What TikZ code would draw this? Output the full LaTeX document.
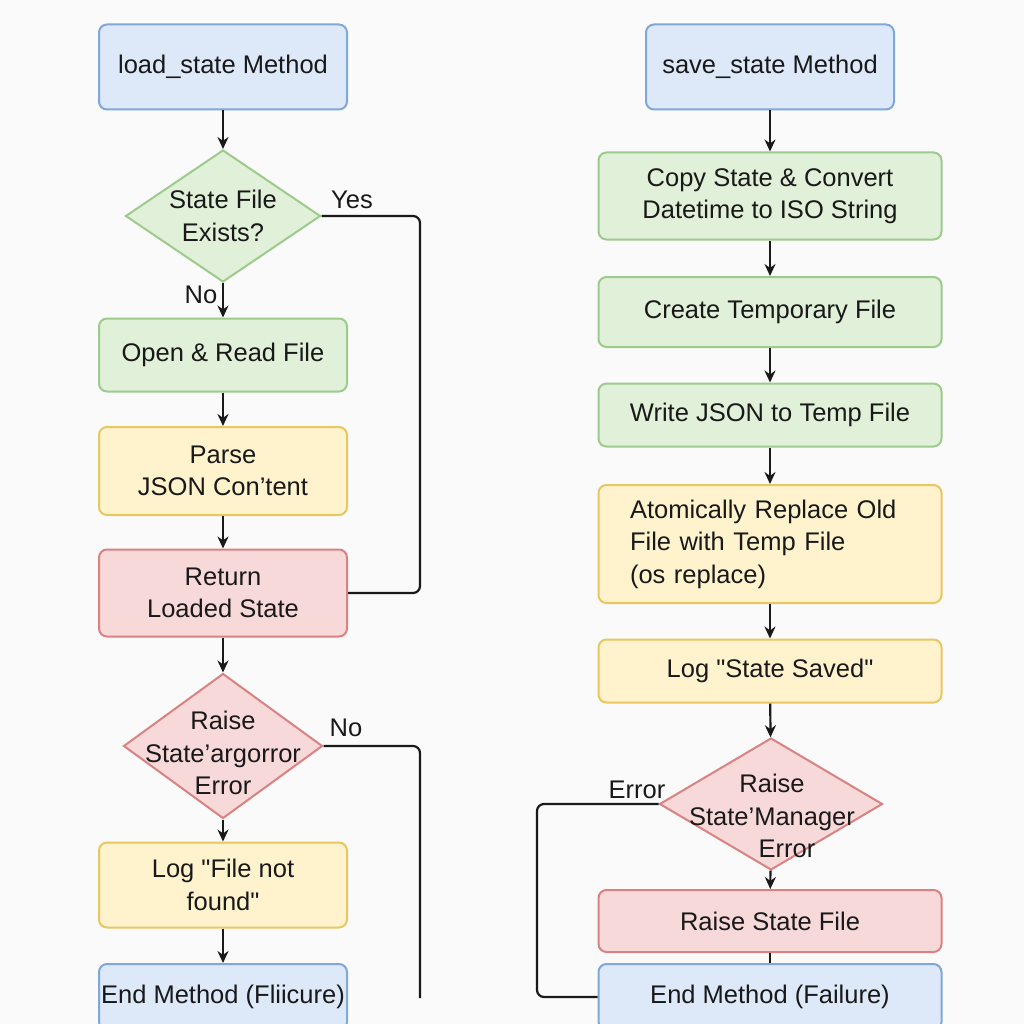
\documentclass[tikz,border=0pt]{standalone}
\usepackage{fontspec}
\setmainfont{Liberation Sans}
\usetikzlibrary{shapes.geometric,arrows.meta}

\definecolor{bluefill}{HTML}{DDE8F8}
\definecolor{blueline}{HTML}{7FA8D8}
\definecolor{greenfill}{HTML}{E1F0D9}
\definecolor{greenline}{HTML}{9CCB8C}
\definecolor{yellowfill}{HTML}{FFF3CE}
\definecolor{yellowline}{HTML}{E8C662}
\definecolor{redfill}{HTML}{F8D9D9}
\definecolor{redline}{HTML}{D98282}
\definecolor{bgcol}{HTML}{FAFAFA}

\begin{document}
\begin{tikzpicture}[x=1pt, y=-1pt,
    every node/.style={font=\fontsize{25.5}{32.5}\selectfont, text=black!90},
    box/.style={rectangle, rounded corners=8pt, line width=2pt, align=center, inner sep=0pt},
    decision/.style={diamond, line width=2pt, inner sep=0pt},
    blue/.style={fill=bluefill, draw=blueline},
    green/.style={fill=greenfill, draw=greenline},
    yellow/.style={fill=yellowfill, draw=yellowline},
    red/.style={fill=redfill, draw=redline},
    arr/.style={-{Stealth[length=12pt,width=11pt]}, line width=2.2pt, black!90},
    link/.style={line width=2.2pt, black!90, rounded corners=7pt}]
        \fill[bgcol] (0,0) rectangle (1024,1024);
        \clip (0,0) rectangle (1024,1024);

        % load_state
        \node[box, blue, minimum width=248, minimum height=85] at (223, 67)  (ls)    {load\_state Method};
        \node[decision, green, minimum width=195, minimum height=132] at (223, 216)  (d1)    {};
        \node[align=center] at (223, 216)  (d1t)    {State File\\Exists?};
        \node[box, green, minimum width=248, minimum height=73] at (223, 355)  (open)    {Open \& Read File};
        \node[box, yellow, minimum width=248, minimum height=88] at (223, 471)  (parse)    {Parse\\JSON Con’tent};
        \node[box, red, minimum width=248, minimum height=87] at (223, 593)  (ret)    {Return\\Loaded State};
        \node[decision, red, minimum width=199, minimum height=145] at (223, 746)  (d2)    {};
        \node[align=center] at (223, 753)  (d2t)    {Raise\\State’argorror\\Error};
        \node[box, yellow, minimum width=248, minimum height=85] at (223, 885)  (logf)    {Log \textquotedbl File not\\found\textquotedbl};
        \node[box, blue, minimum width=248, minimum height=66] at (223, 997)  (end1)    {End Method (Fliicure)};

        \node at (352, 200)  (yes)    {Yes};
        \node at (201, 295)  (no1)    {No};
        \node at (346, 728)  (no2)    {No};
        \coordinate (yesbend) at (420, 216);
        \coordinate (noend) at (420, 998);

        \draw[arr]  (ls) -- (d1);
        \draw[arr]  (d1) -- (open);
        \draw[arr]  (open) -- (parse);
        \draw[arr]  (parse) -- (ret);
        \draw[arr]  (ret) -- (d2);
        \draw[arr]  (d2) -- (logf);
        \draw[arr]  (logf) -- (end1);
        \draw[link]  (d1.east) -- (yesbend) |- (ret.east);
        \draw[link]  (d2.east) -| (noend);

        % save_state
        \node[box, blue, minimum width=248, minimum height=85] at (770, 67)  (ss)    {save\_state Method};
        \node[box, green, minimum width=343, minimum height=87] at (770, 196)  (copy)    {Copy State \& Convert\\Datetime to ISO String};
        \node[box, green, minimum width=343, minimum height=70] at (770, 312)  (tmp)    {Create Temporary File};
        \node[box, green, minimum width=343, minimum height=63] at (770, 415)  (write)    {Write JSON to Temp File};
        \node[box, yellow, minimum width=343, minimum height=118, align=left, text width=280, inner xsep=31.5pt] at (770, 544)  (atom)    {Atomically Replace Old\\File with Temp File\\(os replace)};
        \node[box, yellow, minimum width=343, minimum height=63] at (770, 671)  (logs)    {Log \textquotedbl State Saved\textquotedbl};
        \node[decision, red, minimum width=223, minimum height=132] at (771, 804)  (d3)    {};
        \node[align=center] at (772, 816)  (d3t)    {Raise\\State’Manager\\\hspace*{30pt}Error};
        \node[box, red, minimum width=343, minimum height=62] at (770, 921)  (raise)    {Raise State File};
        \node[box, blue, minimum width=343, minimum height=66] at (770, 997)  (end2)    {End Method (Failure)};

        \node at (637, 790)  (err)    {Error};
        \coordinate (errbend) at (537, 804);

        \draw[arr]  (ss) -- (copy);
        \draw[arr]  (copy) -- (tmp);
        \draw[arr]  (tmp) -- (write);
        \draw[arr]  (write) -- (atom);
        \draw[arr]  (atom) -- (logs);
        \draw[arr]  (logs) -- (d3);
        \draw[arr]  (d3) -- (raise);
        \draw[link]  (raise) -- (end2);
        \draw[link]  (d3.west) -- (errbend) |- (end2.west);
    \end{tikzpicture}
\end{document}
